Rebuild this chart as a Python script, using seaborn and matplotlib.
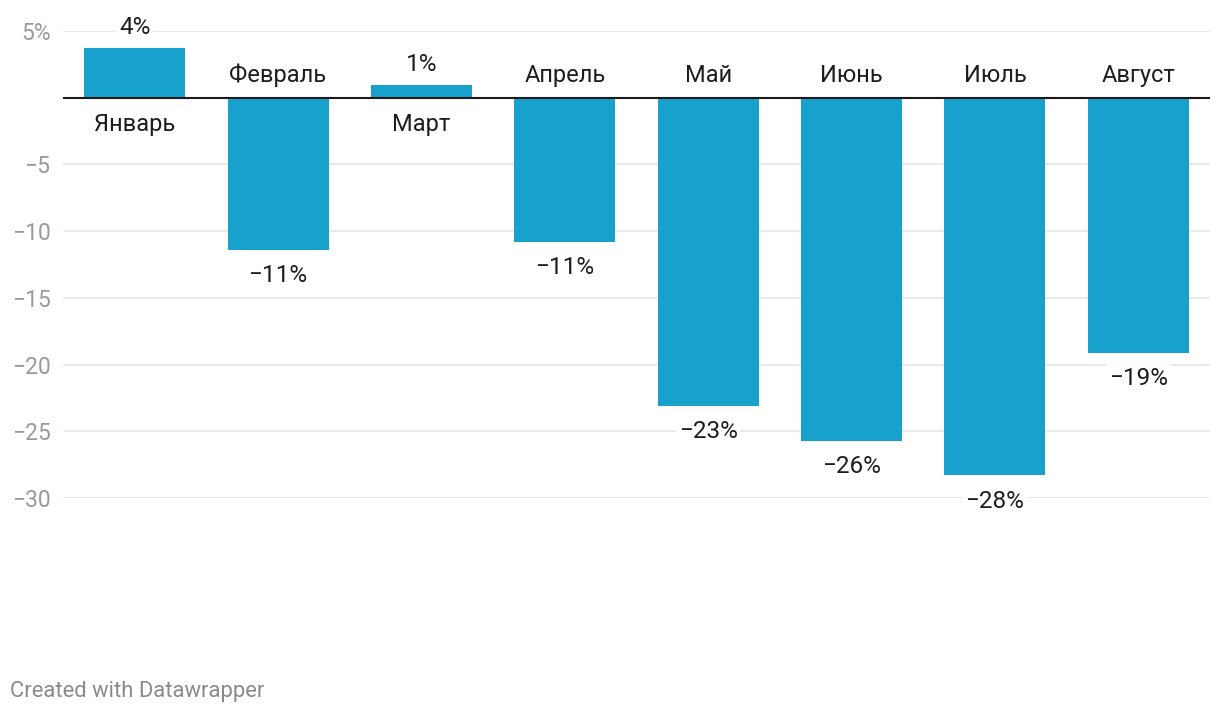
import matplotlib
matplotlib.use("Agg")
import matplotlib.pyplot as plt
import seaborn as sns
import pandas as pd

# данные (изменение, %)
months = ["Январь", "Февраль", "Март", "Апрель", "Май", "Июнь", "Июль", "Август"]
values = [3.7, -11.4, 0.95, -10.8, -23.1, -25.7, -28.3, -19.1]
value_labels = ["4%", "−11%", "1%", "−11%", "−23%", "−26%", "−28%", "−19%"]
yticks = [5, 0, -5, -10, -15, -20, -25, -30]
ytick_labels = ["5%", "", "−5", "−10", "−15", "−20", "−25", "−30"]

sns.set_theme(style="white")
plt.rcParams["font.family"] = ["Roboto", "DejaVu Sans"]

df = pd.DataFrame({"month": months, "value": values})

fig = plt.figure(figsize=(12.2, 7.14), dpi=100)
ax = fig.add_axes([63 / 1220, 1 - 498 / 714, (1210 - 63) / 1220, (498 - 31) / 714])

for t in yticks:
    if t != 0:
        ax.axhline(t, color="#e3e3e3", lw=1.1, zorder=0)

sns.barplot(data=df, x="month", y="value", color="#18a1cd", saturation=1,
            width=0.705, linewidth=0, ax=ax, zorder=2)
ax.axhline(0, color="#1a1a1a", lw=1.5, zorder=3)

ax.set_xlim(-0.5, len(months) - 0.5)
ax.set_ylim(-30, 5)
ax.set_yticks(yticks)
ax.set_yticklabels(ytick_labels)
ax.tick_params(axis="y", length=0, pad=9, labelsize=16.5, labelcolor="#9a9a9a")
ax.set_xticks([])
ax.set_xlabel("")
ax.set_ylabel("")
for s in ax.spines.values():
    s.set_visible(False)

for i, (v, lab) in enumerate(zip(values, value_labels)):
    if v >= 0:
        val_off, cat_off = 15, -19
    else:
        val_off, cat_off = -18.5, 16
    ax.annotate(lab, (i, v), xytext=(0, val_off), textcoords="offset points",
                ha="center", va="center", fontsize=17.5, color="#1d1d1d",
                bbox=dict(boxstyle="square,pad=0.1", fc="white", ec="none"),
                zorder=4, annotation_clip=False)
    ax.annotate(months[i], (i, 0), xytext=(0, cat_off), textcoords="offset points",
                ha="center", va="center", fontsize=17, color="#1d1d1d", zorder=4)

fig.text(10 / 1220, 1 - 692 / 714, "Created with Datawrapper", ha="left", va="center",
         fontsize=15.8, color="#8a8a8a")

fig.savefig("out.png", dpi=100, facecolor="white")
